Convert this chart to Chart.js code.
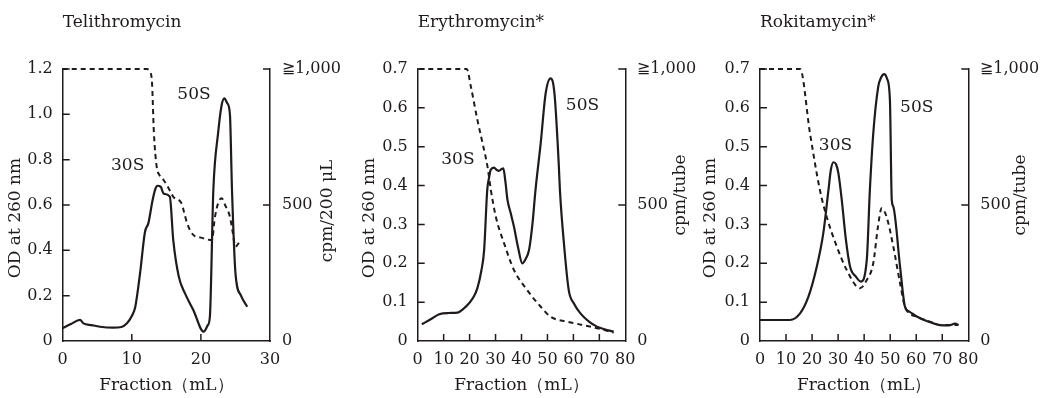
<!DOCTYPE html>
<html>
<head>
<meta charset="utf-8">
<script src="https://cdn.jsdelivr.net/npm/chart.js@4.4.1/dist/chart.umd.min.js"></script>
<style>
  body { margin: 0; background: #ffffff; }
  #wrap { position: relative; width: 1041px; height: 398px; overflow: hidden; }
  canvas { position: absolute; top: 0; }
</style>
</head>
<body>
<div id="wrap">
  <canvas id="c1" width="347" height="398" style="left:0px"></canvas>
  <canvas id="c2" width="360" height="398" style="left:347px"></canvas>
  <canvas id="c3" width="347" height="398" style="left:694px"></canvas>
</div>
<script>
// Telithromycin: OD at 260 nm (solid) and cpm/200 uL (dashed) vs fraction (mL)
const teliOdX = [0, 1.2, 2.5, 3.0, 4.2, 5.4, 7.3, 8.5, 9.3, 10.0, 10.5, 11.2, 11.9, 12.4, 13.0, 13.4, 13.7, 14.2, 14.6, 15.5, 16.0, 16.8, 17.7, 18.9, 20.4, 21.0, 21.3, 21.8, 22.5, 23.0, 23.4, 23.8, 24.2, 24.5, 25.0, 25.8, 26.7];
const teliOd  = [0.057, 0.075, 0.093, 0.078, 0.07, 0.063, 0.059, 0.062, 0.078, 0.11, 0.15, 0.30, 0.48, 0.52, 0.62, 0.67, 0.685, 0.68, 0.65, 0.637, 0.445, 0.284, 0.21, 0.137, 0.041, 0.07, 0.107, 0.666, 0.92, 1.04, 1.07, 1.05, 1.0, 0.666, 0.30, 0.2, 0.151];
const teliCpmX = [0, 12.2, 12.6, 12.9, 13.2, 13.6, 14.0, 14.6, 15.6, 16.0, 17.2, 17.6, 18.0, 18.9, 20.0, 21.6, 22.0, 22.5, 23.0, 23.5, 24.2, 24.6, 25.0, 25.6];
const teliCpm  = [1000, 1000, 990, 960, 764, 641, 610, 592, 549, 530, 506, 470, 433, 390, 380, 371, 450, 507, 525, 500, 457, 400, 347, 365];

// Erythromycin*
const eryOdX = [1.6, 5, 8.3, 12, 15.4, 17.5, 19.8, 21.5, 23.0, 24.5, 25.6, 26.8, 27.5, 28.1, 29.4, 30.5, 31.3, 32.2, 33.0, 33.8, 34.6, 35.8, 37.1, 38.7, 40.3, 41.5, 42.9, 44.2, 45.4, 47.4, 49.3, 51.2, 52.7, 54.4, 54.8, 56.5, 58.2, 60.3, 62.7, 66, 69.1, 72, 75.5];
const eryOd  = [0.043, 0.056, 0.069, 0.072, 0.073, 0.082, 0.097, 0.113, 0.136, 0.18, 0.234, 0.389, 0.42, 0.44, 0.446, 0.44, 0.438, 0.442, 0.444, 0.41, 0.363, 0.33, 0.294, 0.24, 0.20, 0.21, 0.234, 0.3, 0.389, 0.509, 0.637, 0.676, 0.637, 0.449, 0.389, 0.24, 0.131, 0.095, 0.071, 0.05, 0.037, 0.03, 0.024];
const eryCpmX = [0.6, 18.9, 20.5, 23.0, 25.0, 26.9, 28.2, 30.1, 33.3, 37.1, 42.2, 47.4, 51.2, 57.6, 63, 69.1, 75.5];
const eryCpm  = [1000, 1000, 935, 813, 727, 641, 555, 457, 359, 261, 187, 126, 89, 71, 60, 47, 31];

// Rokitamycin*
const rokiOdX = [0, 11.5, 15.4, 18.6, 21.8, 24.3, 26.3, 27.2, 28.2, 29.2, 30.1, 31.4, 33.0, 34.6, 36.9, 38.7, 41.0, 42.2, 43.5, 45.4, 46.5, 47.7, 48.8, 49.9, 50.6, 51.2, 53.8, 55.7, 57.5, 60.2, 64.5, 69.1, 72.5, 75.0, 76.2];
const rokiOd  = [0.054, 0.054, 0.071, 0.114, 0.191, 0.277, 0.389, 0.44, 0.46, 0.455, 0.432, 0.363, 0.26, 0.191, 0.165, 0.153, 0.208, 0.389, 0.534, 0.654, 0.678, 0.687, 0.675, 0.62, 0.363, 0.346, 0.191, 0.088, 0.075, 0.063, 0.05, 0.041, 0.04, 0.045, 0.041];
const rokiCpmX = [0, 15.4, 19.2, 23.0, 25.6, 29.5, 33.3, 38.4, 41.0, 43.5, 45.3, 46.7, 48.6, 51.2, 53.8, 55.7, 60.2, 65, 69.1, 76.2];
const rokiCpm  = [1000, 1000, 764, 555, 457, 347, 261, 194, 224, 286, 420, 488, 457, 347, 212, 126, 89, 72, 59, 59];

// tick labels
const odTicksTeli = ["0", "0.2", "0.4", "0.6", "0.8", "1.0", "1.2"];
const odTicksSeven = ["0", "0.1", "0.2", "0.3", "0.4", "0.5", "0.6", "0.7"];
const cpmTicks = ["0", "500", "\u22671,000"];

// peak labels: [text, fraction, OD]
const teliPeaks = [["30S", 9.4, 0.776], ["50S", 19.0, 1.085]];
const eryPeaks  = [["30S", 15.5, 0.468], ["50S", 63.5, 0.607]];
const rokiPeaks = [["30S", 29.0, 0.504], ["50S", 60.2, 0.602]];

const INK = "#1f1b1c";
const FONT = "'DejaVu Serif', 'Liberation Serif', serif";

const panels = [
  { canvas: "c1", title: "Telithromycin", xMax: 30, yMax: 1.2, yStep: 0.2, odTicks: odTicksTeli,
    odX: teliOdX, od: teliOd, cpmX: teliCpmX, cpm: teliCpm, peaks: teliPeaks,
    rightTitle: "cpm/200 \u03bcL", leftW: 62.7, rightW: 77, leftOff: 46.7, rightOff: 58, rightMid: 211 },
  { canvas: "c2", title: "Erythromycin*", xMax: 80, yMax: 0.7, yStep: 0.1, odTicks: odTicksSeven,
    odX: eryOdX, od: eryOd, cpmX: eryCpmX, cpm: eryCpm, peaks: eryPeaks,
    rightTitle: "cpm/tube", leftW: 70.7, rightW: 81.7, leftOff: 47.7, rightOff: 55.7, rightMid: 195 },
  { canvas: "c3", title: "Rokitamycin*", xMax: 80, yMax: 0.7, yStep: 0.1, odTicks: odTicksSeven,
    odX: rokiOdX, od: rokiOd, cpmX: rokiCpmX, cpm: rokiCpm, peaks: rokiPeaks,
    rightTitle: "cpm/tube", leftW: 66, rightW: 72.7, leftOff: 49, rightOff: 52.7, rightMid: 195 }
];

// inward tick marks + all the free text
const decorPlugin = {
  id: "decor",
  afterDraw(chart) {
    const p = chart.config.options.plugins.decor.panel;
    const ctx = chart.ctx;
    const area = chart.chartArea;
    const sx = chart.scales.x, sy = chart.scales.y, sy1 = chart.scales.y1;
    const TL = 7;

    ctx.save();
    ctx.strokeStyle = INK;
    ctx.lineWidth = 1.5;
    ctx.beginPath();
    sx.ticks.forEach((t) => {
      if (t.value <= sx.min || t.value >= sx.max) return;
      const x = sx.getPixelForValue(t.value);
      ctx.moveTo(x, area.bottom);
      ctx.lineTo(x, area.bottom - TL);
    });
    sy.ticks.forEach((t) => {
      if (t.value <= sy.min) return;
      const y = sy.getPixelForValue(t.value);
      ctx.moveTo(area.left, y);
      ctx.lineTo(area.left + TL, y);
    });
    sy1.ticks.forEach((t) => {
      if (t.value <= sy1.min) return;
      const y = sy1.getPixelForValue(t.value);
      ctx.moveTo(area.right, y);
      ctx.lineTo(area.right - TL, y);
    });
    ctx.stroke();

    ctx.fillStyle = INK;
    ctx.font = "17px " + FONT;
    ctx.textAlign = "left";
    ctx.textBaseline = "middle";
    ctx.fillText(p.title, area.left, 23);

    ctx.textAlign = "center";
    ctx.fillText("Fraction\uff08mL\uff09", (area.left + area.right) / 2, 386);

    p.peaks.forEach((pk) => {
      ctx.fillText(pk[0], sx.getPixelForValue(pk[1]), sy.getPixelForValue(pk[2]));
    });

    ctx.save();
    ctx.translate(area.left - p.leftOff, 218);
    ctx.rotate(-Math.PI / 2);
    ctx.fillText("OD at 260 nm", 0, 0);
    ctx.restore();

    ctx.save();
    ctx.translate(area.right + p.rightOff, p.rightMid);
    ctx.rotate(-Math.PI / 2);
    ctx.fillText(p.rightTitle, 0, 0);
    ctx.restore();

    ctx.restore();
  }
};

function makeChart(p) {
  const solid = p.odX.map((x, i) => ({ x: x, y: p.od[i] }));
  const dashed = p.cpmX.map((x, i) => ({ x: x, y: p.cpm[i] }));
  const tickFont = { family: FONT, size: 16 };

  return new Chart(document.getElementById(p.canvas), {
    type: "line",
    data: {
      datasets: [
        { data: solid, yAxisID: "y", borderColor: INK, borderWidth: 2.2, pointRadius: 0,
          cubicInterpolationMode: "monotone", fill: false, clip: 6 },
        { data: dashed, yAxisID: "y1", borderColor: INK, borderWidth: 2, borderDash: [5, 4],
          pointRadius: 0, cubicInterpolationMode: "monotone", fill: false, clip: 6 }
      ]
    },
    options: {
      responsive: false,
      animation: false,
      devicePixelRatio: 1,
      layout: { padding: { top: 69, left: 0, right: 0, bottom: 0 } },
      scales: {
        x: {
          type: "linear", min: 0, max: p.xMax,
          ticks: { stepSize: 10, color: INK, font: tickFont, padding: 9, maxRotation: 0, autoSkip: false },
          grid: { drawOnChartArea: false, drawTicks: false },
          border: { color: INK, width: 1.5 },
          afterFit: (s) => { s.height = 57; }
        },
        y: {
          position: "left", min: 0, max: p.yMax,
          ticks: { stepSize: p.yStep, color: INK, font: tickFont, padding: 10,
                   callback: (v, i) => p.odTicks[i] },
          grid: { drawOnChartArea: false, drawTicks: false },
          border: { color: INK, width: 1.5 },
          afterFit: (s) => { s.width = p.leftW; }
        },
        y1: {
          position: "right", min: 0, max: 1000,
          ticks: { stepSize: 500, color: INK, font: tickFont, padding: 12,
                   callback: (v, i) => cpmTicks[i] },
          grid: { drawOnChartArea: false, drawTicks: false },
          border: { color: INK, width: 1.5 },
          afterFit: (s) => { s.width = p.rightW; }
        }
      },
      plugins: {
        legend: { display: false },
        tooltip: { enabled: false },
        decor: { panel: p }
      }
    },
    plugins: [decorPlugin]
  });
}

panels.forEach(makeChart);
</script>
</body>
</html>
